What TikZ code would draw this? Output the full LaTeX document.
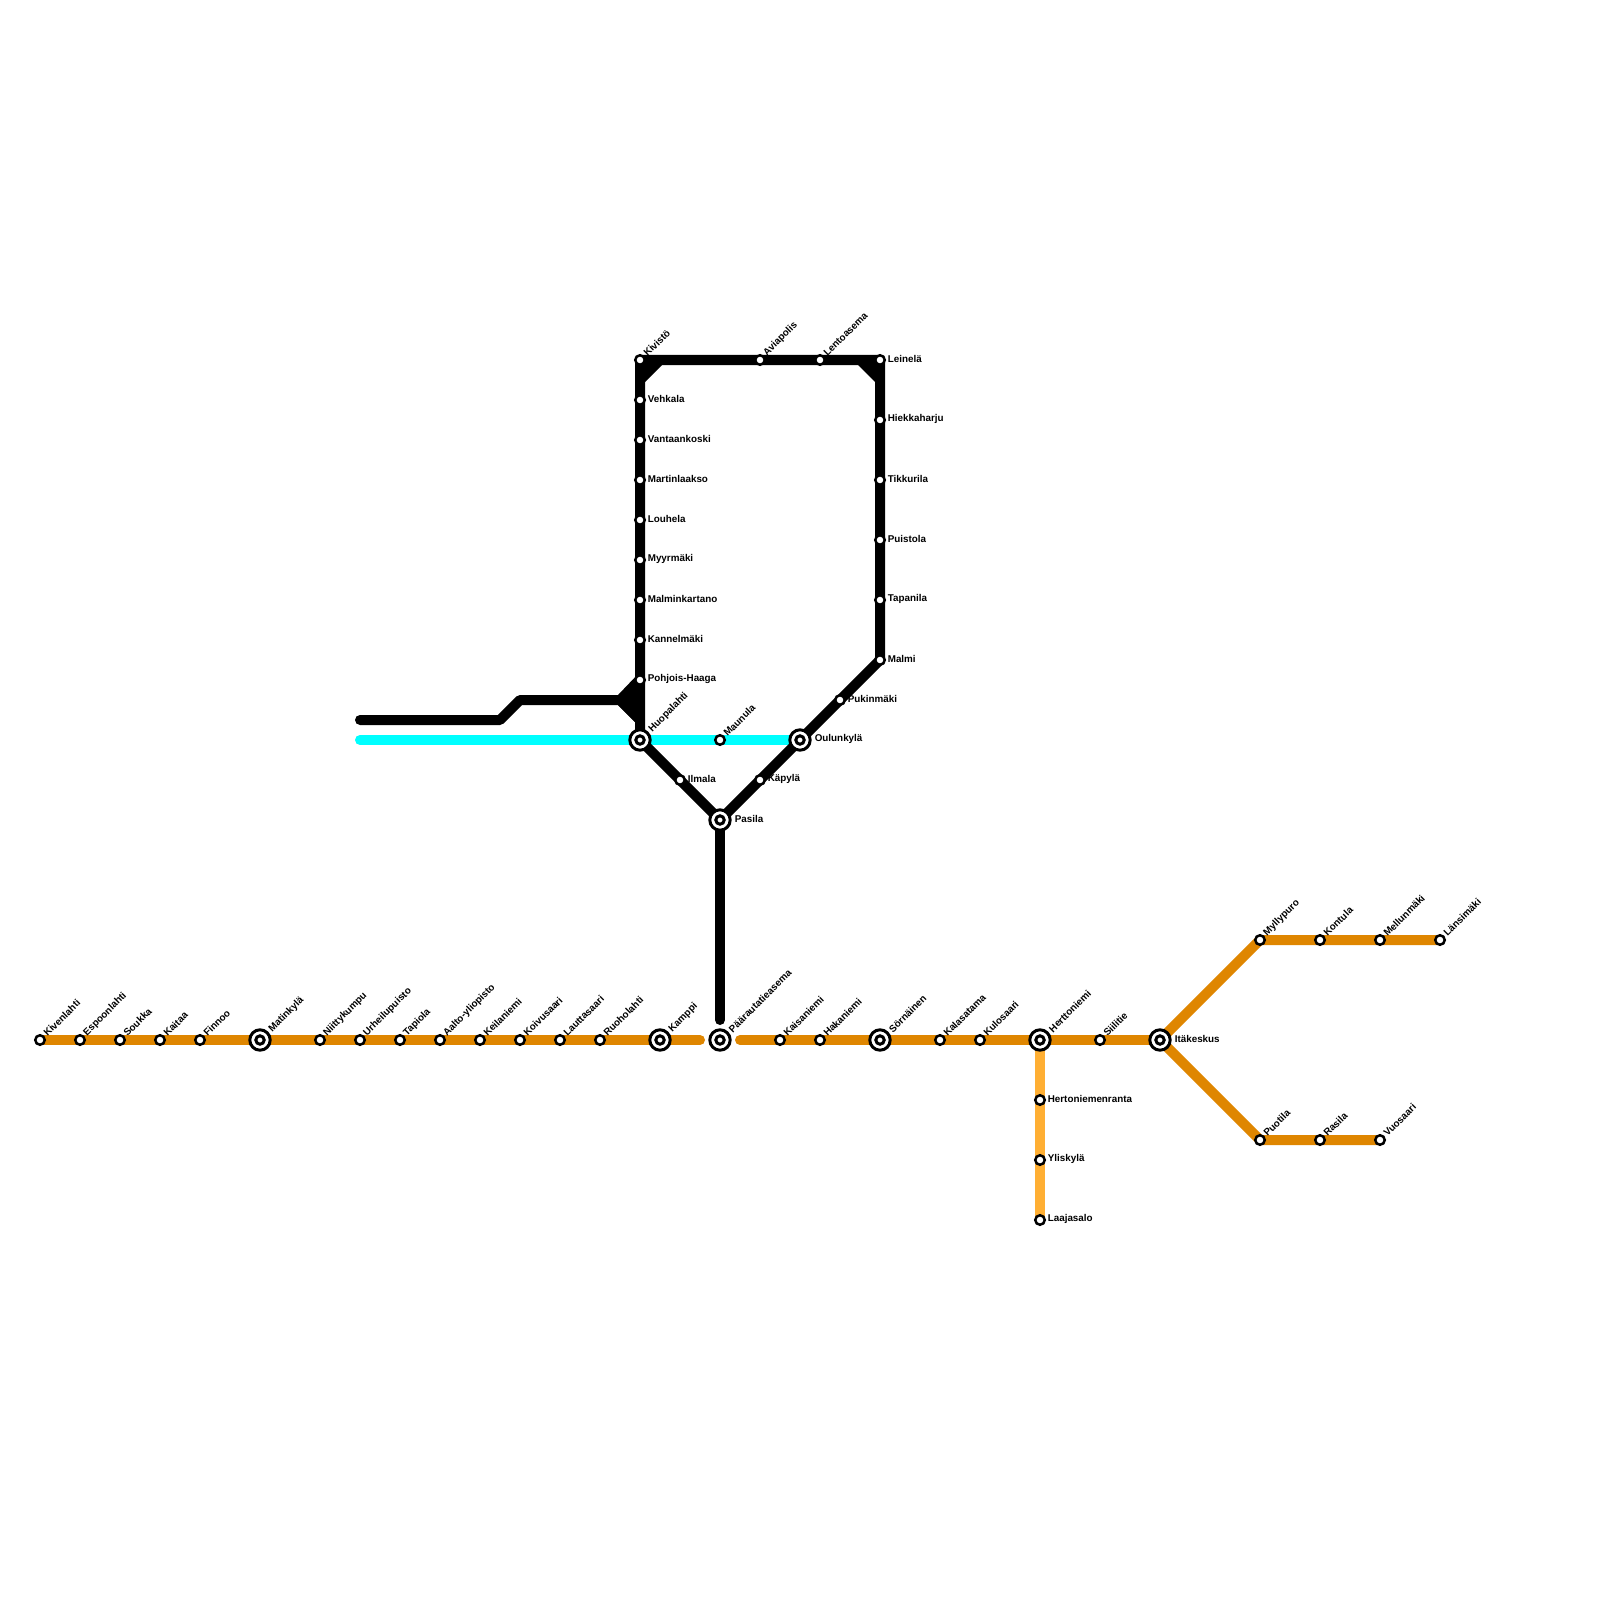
\documentclass[tikz,border=0pt]{standalone}
\usepackage{fontspec}
\setmainfont{Liberation Sans}
\pgfdeclarelayer{lines}
\pgfsetlayers{lines,main}
\definecolor{mOrange}{HTML}{DF8600}
\definecolor{mLight}{HTML}{FFAF33}
\definecolor{mCyan}{HTML}{00FFFF}
\tikzset{
  stn/.style={circle,draw=black,fill=white,line width=0.71pt,inner sep=0pt,outer sep=0pt,minimum size=2.7pt},
  hub/.style={circle,draw=black,fill=white,line width=0.85pt,inner sep=0pt,outer sep=0pt,minimum size=5.8pt},
  hubin/.style={circle,draw=black,fill=white,line width=0.85pt,inner sep=0pt,outer sep=0pt,minimum size=2.4pt},
  lbl/.style={inner sep=0pt,outer sep=0pt,font=\bfseries\fontsize{2.8}{3.2}\selectfont,text=black},
  lblr/.style={lbl,anchor=west},
  lbld/.style={lbl,anchor=west,rotate=45},
  route/.style={line width=2.845pt,line cap=round,line join=round},
  blackroute/.style={route,draw=black},
  orangeroute/.style={route,draw=mOrange},
  lightroute/.style={route,draw=mLight},
  cyanroute/.style={route,draw=mCyan}
}
% id, x, y, text
\newcommand{\stnR}[4]{\node[stn] (#1) at (#2,#3) {}; \node[lblr] (#1t) at (#2+7.8,#3-0.7) {#4};}
\newcommand{\stnD}[4]{\node[stn] (#1) at (#2,#3) {}; \node[lbld] (#1t) at (#2+5.2,#3-5.5) {#4};}
\newcommand{\hubR}[4]{\node[hub] (#1) at (#2,#3) {}; \node[hubin] (#1i) at (#2,#3) {}; \node[lblr] (#1t) at (#2+14.8,#3-0.7) {#4};}
\newcommand{\hubD}[4]{\node[hub] (#1) at (#2,#3) {}; \node[hubin] (#1i) at (#2,#3) {}; \node[lbld] (#1t) at (#2+10.5,#3-9.5) {#4};}
\begin{document}
\begin{tikzpicture}[x=0.01cm,y=-0.01cm]
\useasboundingbox (0,0) rectangle (1600,1600);
% west line
\stnD{kivenlahti}{40}{1040}{Kivenlahti}
\stnD{espoonlahti}{80}{1040}{Espoonlahti}
\stnD{soukka}{120}{1040}{Soukka}
\stnD{kaitaa}{160}{1040}{Kaitaa}
\stnD{finnoo}{200}{1040}{Finnoo}
\hubD{matinkyla}{260}{1040}{Matinkylä}
\stnD{niittykumpu}{320}{1040}{Niittykumpu}
\stnD{urheilupuisto}{360}{1040}{Urheilupuisto}
\stnD{tapiola}{400}{1040}{Tapiola}
\stnD{aalto}{440}{1040}{Aalto-yliopisto}
\stnD{keilaniemi}{480}{1040}{Keilaniemi}
\stnD{koivusaari}{520}{1040}{Koivusaari}
\stnD{lauttasaari}{560}{1040}{Lauttasaari}
\stnD{ruoholahti}{600}{1040}{Ruoholahti}
\hubD{kamppi}{660}{1040}{Kamppi}
\hubD{rautatie}{720}{1040}{Päärautatieasema}
\stnD{kaisaniemi}{780}{1040}{Kaisaniemi}
\stnD{hakaniemi}{820}{1040}{Hakaniemi}
\hubD{sornainen}{880}{1040}{Sörnäinen}
\stnD{kalasatama}{940}{1040}{Kalasatama}
\stnD{kulosaari}{980}{1040}{Kulosaari}
\hubD{herttoniemi}{1040}{1040}{Herttoniemi}
\stnD{siilitie}{1100}{1040}{Siilitie}
\hubR{itakeskus}{1160}{1040}{Itäkeskus}
\stnD{myllypuro}{1260}{940}{Myllypuro}
\stnD{kontula}{1320}{940}{Kontula}
\stnD{mellunmaki}{1380}{940}{Mellunmäki}
\stnD{lansimaki}{1440}{940}{Länsimäki}
\stnD{puotila}{1260}{1140}{Puotila}
\stnD{rasila}{1320}{1140}{Rasila}
\stnD{vuosaari}{1380}{1140}{Vuosaari}
\stnR{hertonr}{1040}{1100}{Hertoniemenranta}
\stnR{yliskyla}{1040}{1160}{Yliskylä}
\stnR{laajasalo}{1040}{1220}{Laajasalo}
% ring
\stnD{kivisto}{640}{360}{Kivistö}
\stnR{vehkala}{640}{400}{Vehkala}
\stnR{vantaankoski}{640}{440}{Vantaankoski}
\stnR{martinlaakso}{640}{480}{Martinlaakso}
\stnR{louhela}{640}{520}{Louhela}
\stnR{myyrmaki}{640}{560}{Myyrmäki}
\stnR{malminkartano}{640}{600}{Malminkartano}
\stnR{kannelmaki}{640}{640}{Kannelmäki}
\stnR{pohjoishaaga}{640}{680}{Pohjois-Haaga}
\hubD{huopalahti}{640}{740}{Huopalahti}
\stnD{maunula}{720}{740}{Maunula}
\hubR{oulunkyla}{800}{740}{Oulunkylä}
\stnR{ilmala}{680}{780}{Ilmala}
\stnR{kapyla}{760}{780}{Käpylä}
\hubR{pasila}{720}{820}{Pasila}
\stnD{aviapolis}{760}{360}{Aviapolis}
\stnD{lentoasema}{820}{360}{Lentoasema}
\stnR{leinela}{880}{360}{Leinelä}
\stnR{hiekkaharju}{880}{420}{Hiekkaharju}
\stnR{tikkurila}{880}{480}{Tikkurila}
\stnR{puistola}{880}{540}{Puistola}
\stnR{tapanila}{880}{600}{Tapanila}
\stnR{malmi}{880}{660}{Malmi}
\stnR{pukinmaki}{840}{700}{Pukinmäki}
% free ends and bends
\coordinate (wa) at (360,720);
\coordinate (wb) at (500,720);
\coordinate (wc) at (520,700);
\coordinate (wd) at (620,700);
\coordinate (we) at (640,720);
\coordinate (ca) at (360,740);
\coordinate (oa) at (700,1040);
\coordinate (ob) at (740,1040);
\coordinate (pe) at (720,1020);
\begin{pgfonlayer}{lines}
\draw[cyanroute] (ca) -- (oulunkyla.center);
\draw[lightroute] (herttoniemi.center) -- (laajasalo.center);
\draw[orangeroute] (kivenlahti.center) -- (oa);
\draw[orangeroute] (ob) -- (itakeskus.center);
\draw[orangeroute] (itakeskus.center) -- (myllypuro.center) -- (lansimaki.center);
\draw[orangeroute] (itakeskus.center) -- (puotila.center) -- (vuosaari.center);
\draw[blackroute] (wa) -- (wb) -- (wc) -- (wd) -- (we);
\draw[blackroute] (huopalahti.center) -- (kivisto.center) -- (leinela.center) -- (malmi.center) -- (oulunkyla.center) -- (pasila.center) -- (huopalahti.center);
\draw[blackroute] (pasila.center) -- (pe);
\fill[black] (640,360) -- (662,365) -- (645,382) -- cycle;
\fill[black] (880,360) -- (858,365) -- (875,382) -- cycle;
\fill[black] (640,672) -- (618,695) -- (618,705) -- (640,727) -- cycle;
\end{pgfonlayer}
\end{tikzpicture}
\end{document}
